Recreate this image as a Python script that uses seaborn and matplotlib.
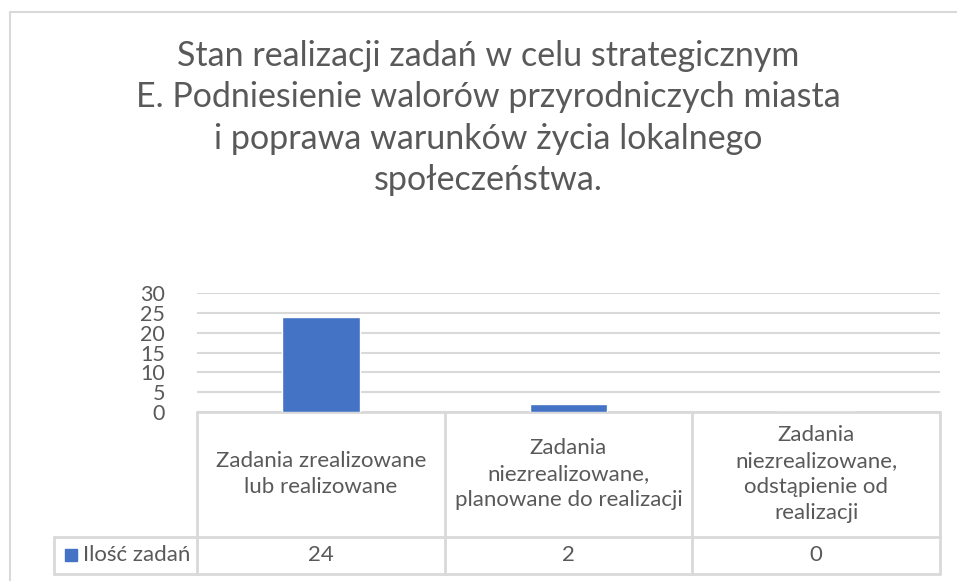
import pandas as pd
import matplotlib.pyplot as plt
import seaborn as sns

# --- data ---
categories = [
    "Zadania zrealizowane\nlub realizowane",
    "Zadania\nniezrealizowane,\nplanowane do realizacji",
    "Zadania\nniezrealizowane,\nodstąpienie od\nrealizacji",
]
values = [24, 2, 0]
series_name = "Ilość zadań"
y_ticks = [0, 5, 10, 15, 20, 25, 30]
title = ("Stan realizacji zadań w celu strategicznym\n"
         "E. Podniesienie walorów przyrodniczych miasta\n"
         "i poprawa warunków życia lokalnego\n"
         "społeczeństwa.")

df = pd.DataFrame({"kategoria": categories, "ilosc": values})

# --- style ---
sns.set_theme(style="white")
plt.rcParams["font.family"] = ["Lato", "DejaVu Sans"]
TXT = "#595959"
GRID = "#D9D9D9"
BAR = "#4472C4"

W, H = 957, 581
fig = plt.figure(figsize=(W / 100, H / 100), dpi=100)

# plot area in pixels
left, right, top, bottom = 197, 940, 293.5, 411.7
ax = fig.add_axes([left / W, 1 - bottom / H, (right - left) / W, (bottom - top) / H])
sns.barplot(data=df, x="kategoria", y="ilosc", color=BAR, width=0.313,
            saturation=1, ax=ax)
ax.set_ylim(0, 30)
ax.set_xlim(-0.5, 2.5)
ax.set_yticks(y_ticks)
ax.set_yticklabels([str(t) for t in y_ticks], fontsize=15.5, color=TXT)
ax.tick_params(axis="y", length=0, pad=23)
ax.set_xticks([])
ax.set_xlabel("")
ax.set_ylabel("")
ax.grid(axis="y", color=GRID, linewidth=1.5)
ax.set_axisbelow(True)
for s in ax.spines.values():
    s.set_visible(False)

# --- overlay in pixel coords for data table and frame ---
ov = fig.add_axes([0, 0, 1, 1], zorder=-1)
ov.set_xlim(0, W)
ov.set_ylim(H, 0)
ov.axis("off")

# chart frame (left and top edges visible)
ov.plot([10, 10, W + 5], [H + 5, 12, 12], color=GRID, lw=1.5)

cols = [left + i * (right - left) / 3 for i in range(4)]
t_top, t_mid, t_bot = 411.7, 536.7, 574
leg_left = 54
lw = 2
ov.plot([left, right], [t_top, t_top], color=GRID, lw=lw)
ov.plot([leg_left, right], [t_mid, t_mid], color=GRID, lw=lw)
ov.plot([leg_left, right], [t_bot, t_bot], color=GRID, lw=lw)
ov.plot([leg_left, leg_left], [t_mid, t_bot], color=GRID, lw=lw)
for c in cols:
    ov.plot([c, c], [t_top, t_bot], color=GRID, lw=lw)

for i, (cat, v) in enumerate(zip(categories, values)):
    cx = (cols[i] + cols[i + 1]) / 2
    ov.text(cx, (t_top + t_mid) / 2, cat, ha="center", va="center",
            fontsize=16, color=TXT, linespacing=1.38)
    ov.text(cx, (t_mid + t_bot) / 2, str(v), ha="center", va="center",
            fontsize=16, color=TXT)

# legend key + series name
ov.add_patch(plt.Rectangle((65, 549), 12, 12, color=BAR))
ov.text(83, (t_mid + t_bot) / 2, series_name, ha="left", va="center",
        fontsize=16, color=TXT)

# title
fig.text(488 / W, 1 - 118 / H, title, ha="center", va="center",
         fontsize=24.5, color=TXT, linespacing=1.36)

fig.savefig("out.png", dpi=100)
